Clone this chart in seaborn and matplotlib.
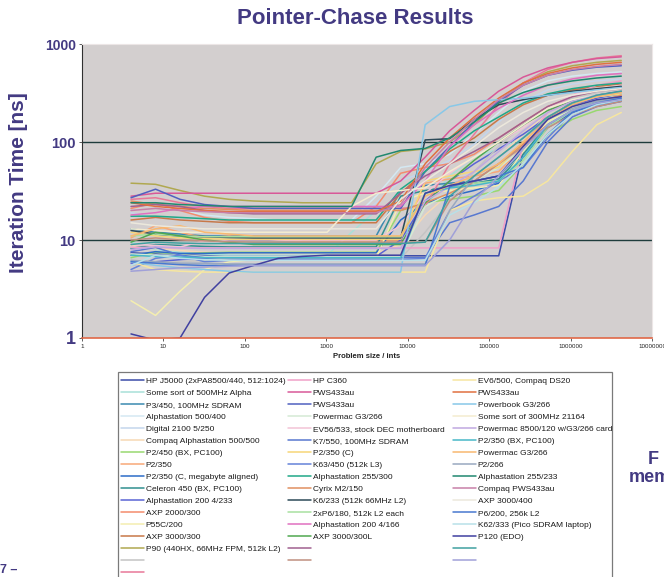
import matplotlib
matplotlib.use("Agg")
import matplotlib.pyplot as plt
from matplotlib.lines import Line2D
from matplotlib.patches import Rectangle
import seaborn as sns
import pandas as pd

# problem sizes in ints (4 .. 4M)
sizes = [4, 8, 16, 32, 64, 128, 256, 512, 1024, 2048, 4096, 8192, 16384,
         32768, 65536, 131072, 262144, 524288, 1048576, 2097152, 4194304]

names = [
    # column 1
    "HP J5000 (2xPA8500/440, 512:1024)", "Some sort of 500MHz Alpha",
    "P3/450, 100MHz SDRAM", "Alphastation 500/400", "Digital 2100 5/250",
    "Compaq Alphastation 500/500", "P2/450 (BX, PC100)", "P2/350",
    "P2/350 (C, megabyte aligned)", "Celeron 450 (BX, PC100)",
    "Alphastation 200 4/233", "AXP 2000/300", "P55C/200", "AXP 3000/300",
    "P90 (440HX, 66MHz FPM, 512k L2)", "", "",
    # column 2
    "HP C360", "PWS433au", "PWS433au", "Powermac G3/266",
    "EV56/533, stock DEC motherboard", "K7/550, 100MHz SDRAM", "P2/350 (C)",
    "K63/450 (512k L3)", "Alphastation 255/300", "Cyrix M2/150",
    "K6/233 (512k 66MHz L2)", "2xP6/180, 512k L2 each",
    "Alphastation 200 4/166", "AXP 3000/300L", "", "",
    # column 3
    "EV6/500, Compaq DS20", "PWS433au", "Powerbook G3/266",
    "Some sort of 300MHz 21164", "Powermac 8500/120 w/G3/266 card",
    "P2/350 (BX, PC100)", "Powermac G3/266", "P2/266",
    "Alphastation 255/233", "Compaq PWS433au", "AXP 3000/400",
    "P6/200, 256k L2", "K62/333 (Pico SDRAM laptop)", "P120 (EDO)", "", "",
]

colors = [
    "#3b4ba8", "#a8e0d8", "#3a8ab0", "#d4e8f2", "#c4d6ec", "#f6d8b4",
    "#98d870", "#f8a878", "#2c6cc8", "#309090", "#5a64d4", "#f48c6c",
    "#f4eeb0", "#c87848", "#b0a850", "#c4c4c4", "#e87898",
    "#f0a0c8", "#d85898", "#5060c0", "#d4ead4", "#f2c4d6", "#5878d0",
    "#f6d678", "#6482d8", "#20a888", "#e09060", "#2c4a58", "#a8e0a0",
    "#e070c0", "#50a850", "#a06090", "#c09080",
    "#f6e6a0", "#e07040", "#88c8e8", "#f4ecd0", "#c0a8e0", "#48b8c8",
    "#f8b870", "#98a8c0", "#208870", "#c880a8", "#ece8dc", "#4878d0",
    "#b8e0e8", "#4040a0", "#40a0a0", "#a0a0d8",
]

# iteration time [ns], one list per machine, same order as names
times = [
    [7.4, 7.2, 7.0, 7.0, 6.9, 6.9, 6.9, 6.9, 6.9, 6.9, 6.9, 6.9, 6.9, 6.9, 6.9, 6.9, 80, 175, 255, 300, 330],
    [9.5, 8.0, 7.5, 7.2, 7.0, 7.0, 7.0, 7.0, 7.0, 12, 20, 21, 22, 45, 70, 85, 110, 210, 300, 350, 380],
    [13, 12, 11.5, 11, 11, 11, 11, 11, 11, 11, 11, 32, 36, 38, 40, 45, 80, 150, 210, 250, 270],
    [24, 22, 20, 18, 17, 16.5, 16, 16, 16, 16, 28, 55, 60, 75, 120, 200, 330, 420, 470, 500, 520],
    [19, 17, 16, 15.5, 15, 15, 15, 15, 15, 15, 24, 40, 50, 65, 95, 160, 260, 340, 390, 420, 440],
    [8.8, 8.2, 7.8, 7.5, 7.4, 7.3, 7.3, 7.3, 7.3, 7.3, 7.3, 9, 18, 30, 45, 70, 120, 200, 290, 350, 400],
    [6.6, 7.5, 7.2, 7.4, 7.5, 7.5, 7.5, 7.5, 7.5, 7.5, 7.5, 20, 24, 26, 28, 32, 60, 120, 170, 210, 230],
    [10.5, 14, 12, 10.5, 11, 10.5, 10, 9.8, 9.8, 9.8, 9.8, 9.8, 38, 42, 45, 50, 90, 170, 230, 270, 290],
    [7.0, 7.6, 7.3, 7.3, 7.4, 7.4, 7.4, 7.4, 7.4, 7.4, 7.4, 16, 24, 28, 32, 38, 70, 140, 200, 240, 260],
    [8.2, 9.0, 8.8, 8.6, 8.5, 8.5, 8.5, 8.5, 8.5, 8.5, 8.5, 28, 32, 35, 38, 42, 75, 150, 210, 250, 270],
    [5.8, 6.0, 6.3, 6.5, 6.8, 6.8, 6.8, 6.8, 6.8, 6.8, 6.8, 10, 25, 40, 60, 85, 120, 180, 240, 280, 300],
    [21, 24, 20, 17, 15.5, 15, 15, 15, 15, 15, 22, 48, 55, 60, 75, 110, 160, 230, 290, 330, 350],
    [2.4, 1.7, 3.0, 5.0, 6.0, 6.3, 6.5, 6.5, 6.5, 6.5, 6.5, 25, 30, 32, 34, 36, 80, 160, 220, 260, 280],
    [16, 17, 16, 15.5, 15, 15, 15, 15, 15, 15, 15, 30, 50, 80, 110, 170, 240, 300, 340, 370, 390],
    [38, 37, 32, 28, 26, 25, 24.5, 24, 24, 24, 60, 80, 85, 100, 150, 260, 400, 520, 600, 650, 680],
    [5.5, 5.8, 6.0, 6.2, 6.4, 6.5, 6.5, 6.5, 6.5, 6.5, 6.5, 6.5, 12, 25, 50, 90, 150, 220, 280, 320, 340],
    [26, 27, 24, 22, 21, 21, 21, 21, 21, 21, 21, 21, 22, 60, 120, 240, 400, 550, 650, 720, 760],
    [8.4, 8.4, 8.3, 8.3, 8.3, 8.3, 8.3, 8.3, 8.3, 8.3, 8.3, 8.3, 8.3, 8.3, 8.3, 8.3, 95, 200, 300, 380, 420],
    [28, 30, 30, 30, 30, 30, 30, 30, 30, 30, 30, 40, 70, 130, 210, 330, 460, 570, 650, 710, 740],
    [27, 33, 26, 23, 22, 21, 21, 21, 21, 21, 21, 21, 50, 90, 160, 260, 380, 480, 540, 580, 600],
    [7.2, 7.0, 7.0, 6.8, 6.8, 6.8, 6.8, 6.8, 6.8, 6.8, 6.8, 6.8, 22, 30, 40, 55, 85, 150, 220, 270, 300],
    [9.0, 8.8, 8.5, 9.8, 10, 10, 10, 10, 10, 10, 10, 14, 30, 48, 70, 100, 140, 220, 300, 350, 380],
    [7.6, 8.4, 7.0, 6.6, 6.6, 6.6, 6.6, 6.6, 6.6, 6.6, 6.6, 6.6, 6.6, 15, 18, 22, 40, 100, 180, 230, 260],
    [12, 11, 10.5, 10.3, 10.2, 10.2, 10.2, 10.2, 10.2, 10.2, 10.2, 10.2, 40, 45, 50, 55, 100, 180, 250, 290, 310],
    [5.0, 6.5, 7.0, 6.0, 6.2, 6.3, 6.3, 6.3, 6.3, 6.3, 6.3, 6.3, 6.5, 20, 28, 40, 55, 110, 200, 260, 290],
    [17.5, 17.5, 17, 16.5, 16, 16, 16, 16, 16, 16, 16, 33, 50, 85, 130, 180, 250, 310, 350, 380, 400],
    [25, 23, 22, 21, 20.5, 20, 20, 20, 20, 20, 20, 20, 24, 30, 40, 60, 95, 150, 210, 260, 300],
    [12.5, 11.5, 11, 10.8, 10.6, 10.5, 10.5, 10.5, 10.5, 10.5, 10.5, 10.5, 105, 108, 170, 240, 270, 300, 330, 350, 370],
    [11, 11.5, 11, 10.8, 10.8, 10.8, 10.8, 10.8, 10.8, 10.8, 10.8, 10.8, 30, 35, 38, 40, 65, 140, 210, 260, 280],
    [18, 19, 21, 22, 22, 22, 22, 22, 22, 22, 22, 22, 40, 90, 150, 220, 300, 380, 440, 480, 500],
    [9.5, 12, 11, 10, 9.5, 9.0, 9.0, 9.0, 9.0, 9.0, 9.0, 9.0, 24, 40, 65, 100, 150, 210, 260, 300, 320],
    [22, 23, 22, 20, 19, 18.5, 18.5, 18.5, 18.5, 18.5, 18.5, 30, 45, 60, 80, 110, 160, 230, 290, 330, 350],
    [10, 10.5, 10, 9.8, 9.6, 9.5, 9.5, 9.5, 9.5, 9.5, 9.5, 9.5, 9.5, 25, 40, 60, 90, 140, 190, 230, 260],
    [6.0, 5.0, 4.8, 4.7, 4.7, 4.7, 4.7, 4.7, 4.7, 4.7, 4.7, 4.7, 4.7, 20, 25, 27, 28, 40, 80, 150, 200],
    [24, 22, 21, 20, 19.5, 19.5, 19.5, 19.5, 19.5, 19.5, 19.5, 25, 60, 110, 180, 280, 400, 500, 570, 620, 650],
    [6.0, 5.5, 5.2, 5.0, 4.8, 4.7, 4.7, 4.7, 4.7, 4.7, 4.7, 4.7, 150, 230, 260, 270, 280, 300, 320, 340, 360],
    [13, 12.5, 12, 12, 12, 12, 12, 12, 12, 22, 30, 32, 34, 50, 70, 100, 150, 220, 270, 300, 320],
    [8.0, 8.5, 8.3, 8.2, 8.2, 8.2, 8.2, 8.2, 8.2, 8.2, 8.2, 8.2, 25, 35, 50, 80, 130, 200, 260, 300, 320],
    [7.0, 6.8, 6.7, 6.6, 6.6, 6.6, 6.6, 6.6, 6.6, 6.6, 6.6, 6.6, 30, 34, 36, 40, 70, 150, 210, 250, 270],
    [11, 13, 14, 12, 11.5, 11, 11, 11, 11, 11, 11, 11, 28, 36, 45, 60, 100, 170, 240, 290, 320],
    [6.2, 6.0, 5.8, 5.8, 5.7, 5.7, 5.7, 5.7, 5.7, 5.7, 5.7, 5.7, 5.7, 20, 45, 70, 110, 170, 220, 260, 280],
    [24, 24, 23, 22.5, 22, 22, 22, 22, 22, 22, 70, 82, 86, 110, 160, 250, 320, 380, 420, 450, 470],
    [20, 21, 20, 19.5, 19, 19, 19, 19, 19, 19, 19, 23, 55, 100, 170, 270, 380, 480, 550, 590, 620],
    [15, 14, 13.5, 13, 13, 13, 13, 13, 13, 13, 13, 26, 40, 60, 90, 140, 200, 260, 300, 330, 350],
    [6.0, 5.8, 5.6, 5.5, 5.5, 5.5, 5.5, 5.5, 5.5, 5.5, 5.5, 5.5, 5.5, 35, 40, 45, 55, 120, 200, 250, 280],
    [5.5, 7.0, 6.5, 6.3, 6.2, 6.2, 6.2, 6.2, 6.2, 6.2, 6.2, 6.2, 6.2, 18, 24, 35, 60, 120, 190, 240, 270],
    [1.1, 0.95, 1.0, 2.6, 4.6, 5.5, 6.5, 6.8, 7.0, 7.0, 7.0, 7.0, 30, 36, 40, 45, 90, 170, 230, 270, 290],
    [9.0, 9.5, 9.3, 9.2, 9.2, 9.2, 9.2, 9.2, 9.2, 9.2, 9.2, 9.2, 9.5, 28, 45, 70, 110, 180, 250, 300, 330],
    [4.8, 5.0, 5.2, 5.3, 5.4, 5.5, 5.5, 5.5, 5.5, 5.5, 5.5, 5.5, 5.5, 10, 25, 45, 85, 150, 210, 250, 270],
]

x_ticks = [1, 10, 100, 1000, 10000, 100000, 1000000, 10000000]
x_ticklabels = ["1", "10", "100", "1000", "10000", "100000", "1000000", "10000000"]
y_ticks = [1, 10, 100, 1000]
y_ticklabels = ["1", "10", "100", "1000"]

purple = "#433a82"

rows = []
for i, series in enumerate(times):
    for s, t in zip(sizes, series):
        rows.append({"id": i, "size": s, "time": t})
df = pd.DataFrame(rows)

sns.set_theme(style="white")
plt.rcParams["font.family"] = ["Liberation Sans", "DejaVu Sans"]

fig = plt.figure(figsize=(6.64, 5.77), dpi=100)
ax = fig.add_axes([82 / 664, 1 - 338 / 577, 570 / 664, 294 / 577])
ax.set_facecolor("#d3cfcf")

ax.axhline(10, color="#1e3c3c", lw=1.0, zorder=1)
ax.axhline(100, color="#1e3c3c", lw=1.0, zorder=1)

palette = {i: c for i, c in enumerate(colors)}
sns.lineplot(data=df, x="size", y="time", hue="id", palette=palette,
             estimator=None, sort=False, legend=False, lw=1.1, ax=ax, zorder=2)

ax.set_xscale("log")
ax.set_yscale("log")
ax.set_xlim(1, 1e7)
ax.set_ylim(1, 1000)
ax.minorticks_off()
ax.set_xticks(x_ticks)
ax.set_xticklabels(x_ticklabels, fontsize=4.5, color="#222222")
ax.set_yticks(y_ticks)
ax.set_yticklabels(y_ticklabels, fontweight="bold", color=purple)
for lab, fs in zip(ax.get_yticklabels(), [13, 10.5, 10.5, 10]):
    lab.set_fontsize(fs)
ax.tick_params(axis="x", direction="out", length=2.5, width=0.6, pad=2,
               bottom=True, color="#444444")
ax.tick_params(axis="y", direction="out", length=2.5, width=0.6, pad=2,
               left=True, color="#444444")
ax.set_xlabel("")
ax.set_ylabel("")
ax.spines["left"].set_color("#303030")
ax.spines["left"].set_linewidth(0.8)
ax.spines["bottom"].set_color("#e06848")
ax.spines["bottom"].set_linewidth(1.2)
for side in ["top", "right"]:
    ax.spines[side].set_color("#ece6e6")
    ax.spines[side].set_linewidth(0.8)

fig.text(355 / 664, 1 - 19 / 577, "Pointer-Chase Results", ha="center",
         va="center", fontsize=16, fontweight="bold", color=purple)
fig.text(19 / 664, 1 - 183 / 577, "Iteration Time [ns]", ha="center",
         va="center", rotation=90, fontsize=15, fontweight="bold", color=purple)
fig.text(367 / 664, 1 - 356 / 577, "Problem size / ints", ha="center",
         va="center", fontsize=5.5, fontweight="bold", color="#222222")

# legend: outer frame plus three columns
fig.add_artist(Rectangle((118 / 664, -0.05), 494 / 664, 0.05 + (577 - 372) / 577,
                         transform=fig.transFigure, fill=False,
                         edgecolor="#7a7a7a", lw=0.9))
col_split = [(0, 17, 121), (17, 33, 288), (33, 49, 453)]
for start, end, xpx in col_split:
    handles = [Line2D([], [], color=colors[k], lw=1.1) for k in range(start, end)]
    labels = [names[k] if names[k] else " " for k in range(start, end)]
    fig.legend(handles, labels, loc="upper left",
               bbox_to_anchor=(xpx / 664, 1 - 377 / 577), frameon=False,
               fontsize=6, handlelength=2.7, handletextpad=0.25,
               labelspacing=0.5, borderpad=0, borderaxespad=0,
               labelcolor="#1a1a1a")

# fragments of the surrounding slide
fig.text(648 / 664, 1 - 460 / 577, "F", ha="left", va="center",
         fontsize=13, fontweight="bold", color=purple)
fig.text(629 / 664, 1 - 477 / 577, "mem", ha="left", va="center",
         fontsize=13, fontweight="bold", color=purple)
fig.text(0 / 664, 1 - 570 / 577, "7 \u2013", ha="left", va="center",
         fontsize=9, fontweight="bold", color=purple)

fig.savefig("out.png", dpi=100)
